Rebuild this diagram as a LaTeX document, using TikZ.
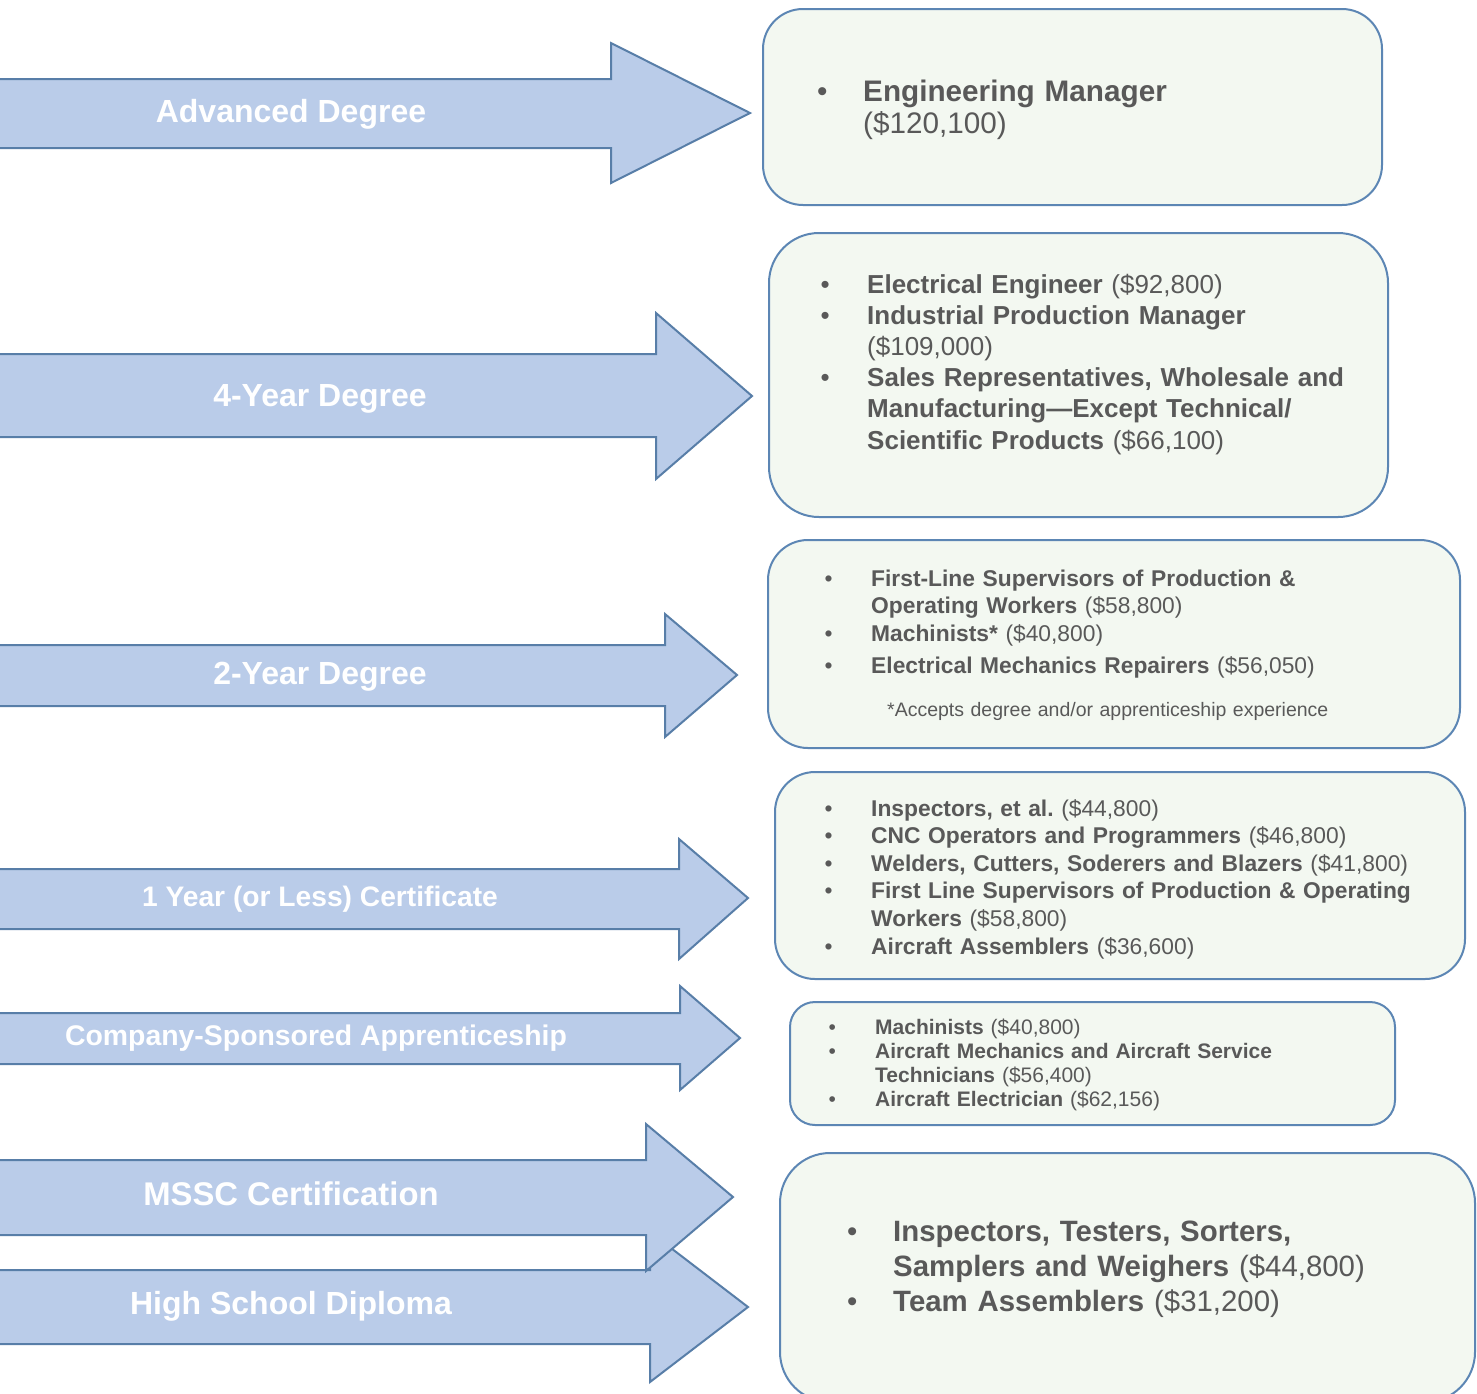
\documentclass[tikz,border=0pt]{standalone}
\usepackage{fontspec}
\setmainfont{Liberation Sans}
\frenchspacing
\definecolor{arrowfill}{RGB}{186,204,233}
\definecolor{arrowline}{RGB}{88,126,168}
\definecolor{boxfill}{RGB}{243,248,241}
\definecolor{boxline}{RGB}{92,134,180}
\definecolor{txtgray}{RGB}{89,89,89}
\newcommand{\bul}[1]{\makebox[#1][l]{\textbullet}}
\tikzset{
  arrowshape/.style={fill=arrowfill, draw=arrowline, line width=2pt, line join=miter},
  infobox/.style={fill=boxfill, draw=boxline, line width=2pt},
  arrlabel/.style={text=white, font=\bfseries\fontsize{32}{36}\selectfont, inner sep=0pt, anchor=base},
  boxtext/.style={text=txtgray, inner sep=0pt, anchor=base west, align=left, text width=620pt},
}
\begin{document}
\begin{tikzpicture}[x=1pt,y=-1pt]
\useasboundingbox (0,0) rectangle (1477,1393);
\clip (0,0) rectangle (1477,1393);
\fill[white] (0,0) rectangle (1477,1393);

% arrows
\draw[arrowshape] (-5,79) -- (611,79) -- (611,43) -- (750,113) -- (611,183) -- (611,148) -- (-5,148) -- cycle;
\draw[arrowshape] (-5,354) -- (656,354) -- (656,313) -- (752,396) -- (656,479) -- (656,437) -- (-5,437) -- cycle;
\draw[arrowshape] (-5,645) -- (665,645) -- (665,614) -- (737,675) -- (665,737) -- (665,706) -- (-5,706) -- cycle;
\draw[arrowshape] (-5,869) -- (679,869) -- (679,839) -- (748,898) -- (679,959) -- (679,929) -- (-5,929) -- cycle;
\draw[arrowshape] (-5,1013) -- (680,1013) -- (680,986) -- (740,1038) -- (680,1090) -- (680,1064) -- (-5,1064) -- cycle;
\draw[arrowshape] (-5,1270) -- (650,1270) -- (650,1232) -- (748,1307) -- (650,1382) -- (650,1344) -- (-5,1344) -- cycle;
\draw[arrowshape] (-5,1160) -- (646,1160) -- (646,1124) -- (733,1197) -- (646,1271) -- (646,1235) -- (-5,1235) -- cycle;

% arrow labels
\node[arrlabel] (l1) at (291,122) {Advanced Degree};
\node[arrlabel] (l2) at (320,406) {4-Year Degree};
\node[arrlabel] (l3) at (320,684) {2-Year Degree};
\node[arrlabel, font=\bfseries\fontsize{28.2}{32}\selectfont] (l4) at (320,906) {1 Year (or Less) Certificate};
\node[arrlabel, font=\bfseries\fontsize{28.4}{32}\selectfont] (l5) at (316,1045) {Company-Sponsored Apprenticeship};
\node[arrlabel, font=\bfseries\fontsize{32.8}{36}\selectfont] (l6) at (291,1205) {MSSC Certification};
\node[arrlabel] (l7) at (291,1314) {High School Diploma};

% boxes
\draw[infobox, rounded corners=40pt] (763,9) rectangle (1382,205);
\draw[infobox, rounded corners=50pt] (769,233) rectangle (1388,517);
\draw[infobox, rounded corners=40pt] (768,540) rectangle (1460,748);
\draw[infobox, rounded corners=40pt] (775,772) rectangle (1465,979);
\draw[infobox, rounded corners=25pt] (790,1002) rectangle (1395,1125);
\draw[infobox, rounded corners=50pt] (780,1153) rectangle (1475,1402);

% box texts
\node[boxtext, font=\fontsize{29.7}{32}\selectfont] (t1) at (817,101)
 {\bul{46pt}\textbf{Engineering Manager}\\\hspace*{46pt}(\$120,100)};

\node[boxtext, font=\fontsize{26}{31.2}\selectfont] (t2) at (820.5,293)
 {\bul{46.5pt}\textbf{Electrical Engineer} (\$92,800)\\
  \bul{46.5pt}\textbf{Industrial Production Manager}\\
  \hspace*{46.5pt}(\$109,000)\\
  \bul{46.5pt}\textbf{Sales Representatives, Wholesale and}\\
  \hspace*{46.5pt}\textbf{Manufacturing\textemdash Except Technical/}\\
  \hspace*{46.5pt}\textbf{Scientific Products} (\$66,100)};

\node[boxtext, font=\fontsize{22.8}{27.5}\selectfont] (t3) at (824.5,586)
 {\bul{46.5pt}\textbf{First-Line Supervisors of Production \&}\\
  \hspace*{46.5pt}\textbf{Operating Workers} (\$58,800)\\
  \bul{46.5pt}\textbf{Machinists*} (\$40,800)\\[4.5pt]
  \bul{46.5pt}\textbf{Electrical Mechanics Repairers} (\$56,050)};
\node[boxtext, font=\fontsize{19.5}{24}\selectfont] (f3) at (887,716)
 {*Accepts degree and/or apprenticeship experience};

\node[boxtext, font=\fontsize{22.8}{27.6}\selectfont] (t4) at (824.5,816)
 {\bul{46.5pt}\textbf{Inspectors, et al.} (\$44,800)\\
  \bul{46.5pt}\textbf{CNC Operators and Programmers} (\$46,800)\\
  \bul{46.5pt}\textbf{Welders, Cutters, Soderers and Blazers} (\$41,800)\\
  \bul{46.5pt}\textbf{First Line Supervisors of Production \& Operating}\\
  \hspace*{46.5pt}\textbf{Workers} (\$58,800)\\
  \bul{46.5pt}\textbf{Aircraft Assemblers} (\$36,600)};

\node[boxtext, font=\fontsize{21}{24.3}\selectfont] (t5) at (828.3,1034)
 {\bul{46.7pt}\textbf{Machinists} (\$40,800)\\
  \bul{46.7pt}\textbf{Aircraft Mechanics and Aircraft Service}\\
  \hspace*{46.7pt}\textbf{Technicians} (\$56,400)\\
  \bul{46.7pt}\textbf{Aircraft Electrician} (\$62,156)};

\node[boxtext, font=\fontsize{29.4}{35}\selectfont] (t6) at (846.9,1241)
 {\bul{46.1pt}\textbf{Inspectors, Testers, Sorters,}\\
  \hspace*{46.1pt}\textbf{Samplers and Weighers} (\$44,800)\\
  \bul{46.1pt}\textbf{Team Assemblers} (\$31,200)};
\end{tikzpicture}
\end{document}
